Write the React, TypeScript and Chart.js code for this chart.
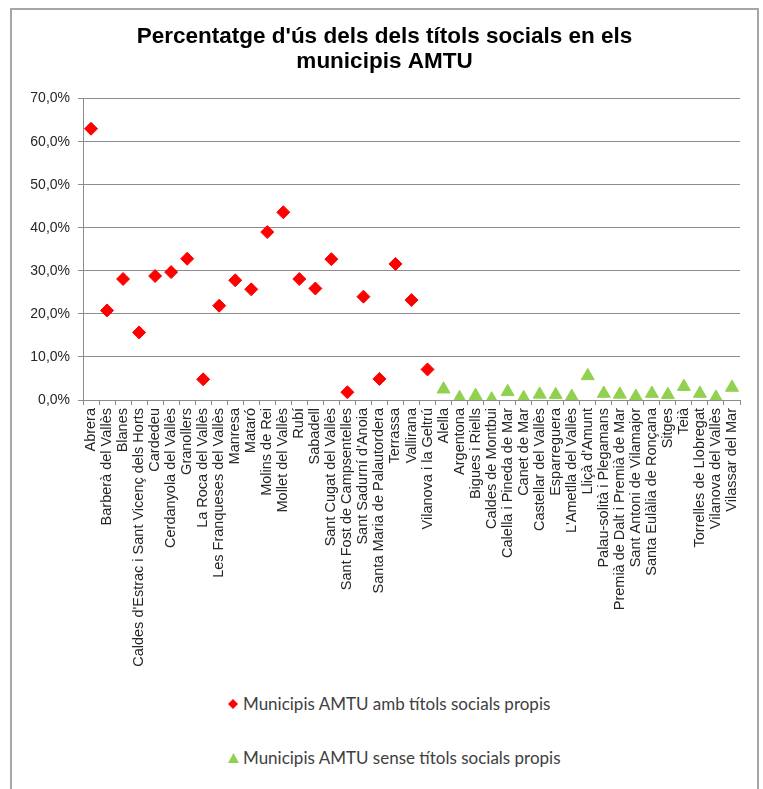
import React, { useEffect, useRef } from 'react';
import { Chart, registerables } from 'chart.js';

Chart.register(...registerables);

const titleLines = ["Percentatge d'ús dels dels títols socials en els", 'municipis AMTU'];

const withLabel = 'Municipis AMTU amb títols socials propis';
const withoutLabel = 'Municipis AMTU sense títols socials propis';

const withMunicipis = [
  'Abrera',
  'Barberà del Vallès',
  'Blanes',
  "Caldes d'Estrac i Sant Vicenç dels Horts",
  'Cardedeu',
  'Cerdanyola del Vallès',
  'Granollers',
  'La Roca del Vallès',
  'Les Franqueses del Vallès',
  'Manresa',
  'Mataró',
  'Molins de Rei',
  'Mollet del Vallès',
  'Rubí',
  'Sabadell',
  'Sant Cugat del Vallès',
  'Sant Fost de Campsentelles',
  "Sant Sadurní d'Anoia",
  'Santa Maria de Palautordera',
  'Terrassa',
  'Vallirana',
  'Vilanova i la Geltrú',
];

const withoutMunicipis = [
  'Alella',
  'Argentona',
  'Bigues i Riells',
  'Caldes de Montbui',
  'Calella i Pineda de Mar',
  'Canet de Mar',
  'Castellar del Vallès',
  'Esparreguera',
  "L'Ametlla del Vallès",
  "Lliçà d'Amunt",
  'Palau-solità i Plegamans',
  'Premià de Dalt i Premià de Mar',
  'Sant Antoni de Vilamajor',
  'Santa Eulàlia de Ronçana',
  'Sitges',
  'Teià',
  'Torrelles de Llobregat',
  'Vilanova del Vallès',
  'Vilassar del Mar',
];

const withValues = [
  63.0, 20.8, 28.1, 15.7, 28.8, 29.7, 32.8, 4.8, 21.9, 27.8, 25.7, 39.0, 43.6, 28.1, 25.9, 32.7,
  1.8, 24.0, 4.9, 31.6, 23.2, 7.1,
];

const withoutValues = [
  2.5, 0.5, 1.0, 0.2, 1.9, 0.5, 1.3, 1.2, 0.8, 5.6, 1.5, 1.3, 0.8, 1.5, 1.2, 3.1, 1.5, 0.6, 2.9,
];

const yMin = 0;
const yMax = 70;
const yStep = 10;

const categories = [...withMunicipis, ...withoutMunicipis];

const formatPct = (v: number) => v.toFixed(1).replace('.', ',') + '%';

const CANVAS_W = 745;
const CANVAS_H = 680;

export default function App() {
  const ref = useRef<HTMLCanvasElement>(null);

  useEffect(() => {
    const canvas = ref.current;
    if (!canvas) return;
    const redData = [...withValues, ...withoutMunicipis.map(() => null)];
    const greenData = [...withMunicipis.map(() => null), ...withoutValues];
    const chart = new Chart(canvas, {
      type: 'line',
      data: {
        labels: categories,
        datasets: [
          {
            label: withLabel,
            data: redData,
            showLine: false,
            pointStyle: 'rectRot',
            pointRadius: 6.5,
            pointBorderWidth: 1,
            backgroundColor: '#ff0000',
            borderColor: '#ff0000',
          },
          {
            label: withoutLabel,
            data: greenData,
            showLine: false,
            pointStyle: 'triangle',
            pointRadius: 7.5,
            pointBorderWidth: 1,
            backgroundColor: '#92d050',
            borderColor: '#92d050',
          },
        ],
      },
      options: {
        responsive: false,
        animation: false,
        layout: { padding: { left: 17, right: 17, top: 0, bottom: 0 } },
        plugins: {
          legend: { display: false },
          tooltip: { enabled: false },
          title: {
            display: true,
            text: titleLines,
            color: '#000000',
            font: { family: '"Liberation Sans", Arial, sans-serif', size: 22.5, weight: 'bold', lineHeight: 1.08 },
            padding: { top: 15, bottom: 25 },
          },
        },
        scales: {
          x: {
            type: 'category',
            offset: true,
            grid: {
              drawOnChartArea: false,
              drawTicks: true,
              tickLength: 5,
              color: '#8c8c8c',
              offset: true,
            },
            border: { color: '#8c8c8c', width: 1 },
            ticks: {
              autoSkip: false,
              maxRotation: 90,
              minRotation: 90,
              padding: 3,
              color: '#262626',
              font: { family: '"Liberation Sans", Arial, sans-serif', size: 14.5 },
            },
            afterFit: (s: any) => {
              s.height = CANVAS_H - 390;
            },
          },
          y: {
            min: yMin,
            max: yMax,
            grid: { color: '#8c8c8c', tickLength: 5, lineWidth: 1 },
            border: { color: '#8c8c8c', width: 1 },
            ticks: {
              stepSize: yStep,
              padding: 8,
              color: '#262626',
              font: { family: '"Liberation Sans", Arial, sans-serif', size: 14 },
              callback: (v: any) => formatPct(Number(v)),
            },
            afterFit: (s: any) => {
              s.width = 54;
            },
          },
        },
      },
    });
    return () => chart.destroy();
  }, []);

  const legendText: React.CSSProperties = {
    fontFamily: 'Lato, "Open Sans", sans-serif',
    fontSize: 17,
    color: '#404040',
    lineHeight: '18px',
    whiteSpace: 'nowrap',
  };

  return (
    <div
      style={{
        position: 'fixed',
        left: 10,
        top: 8,
        width: 745,
        height: 800,
        border: '2px solid #a6a6a6',
        background: '#ffffff',
      }}
    >
      <canvas
        ref={ref}
        width={CANVAS_W}
        height={CANVAS_H}
        style={{ position: 'absolute', left: 0, top: 0, width: CANVAS_W, height: CANVAS_H }}
      />
      <div style={{ position: 'absolute', left: 216, top: 685, display: 'flex', alignItems: 'center', ...legendText }}>
        <svg width="10" height="10" style={{ marginRight: 5 }}>
          <polygon points="5,0 10,5 5,10 0,5" fill="#ff0000" />
        </svg>
        <span>{withLabel}</span>
      </div>
      <div style={{ position: 'absolute', left: 216, top: 739, display: 'flex', alignItems: 'center', ...legendText }}>
        <svg width="11" height="10" style={{ marginRight: 4 }}>
          <polygon points="5.5,0 11,10 0,10" fill="#92d050" />
        </svg>
        <span>{withoutLabel}</span>
      </div>
    </div>
  );
}
